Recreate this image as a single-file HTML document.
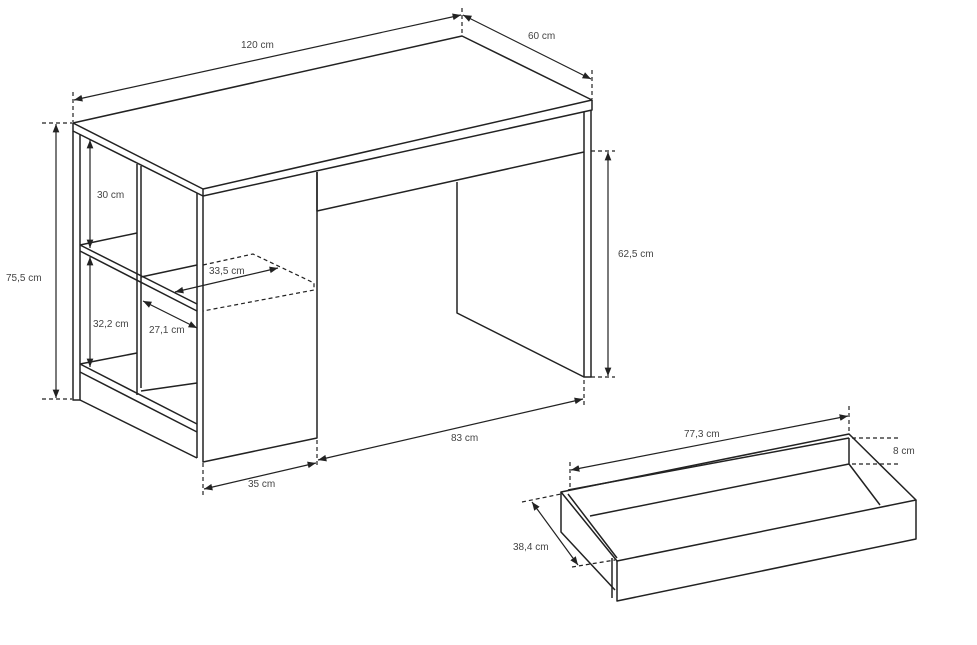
<!DOCTYPE html>
<html><head><meta charset="utf-8"><style>
html,body{margin:0;padding:0;background:#fff;}
svg{display:block}
text{font-family:"Liberation Sans",sans-serif;font-size:10px;fill:#444}
</style></head><body>
<svg width="977" height="645" viewBox="0 0 977 645" xmlns="http://www.w3.org/2000/svg">
<defs>
<marker id="a" viewBox="0 0 10 10" refX="10" refY="5" markerWidth="7" markerHeight="7" orient="auto-start-reverse"><path d="M0,1 L10,5 L0,9 z" fill="#222"/></marker>
</defs>
<g stroke="#222" stroke-width="1.5" fill="none" stroke-linejoin="round">
<path d="M73,123 L462,36 L592,100 L203,189 Z"/>
<path d="M73,123 L73,131 L203,196 L592,110 L592,100"/>
<line x1="203" y1="189" x2="203" y2="196"/>
<path d="M584,112 L584,377 L591,377 L591,110"/>
<path d="M317,172 L317,211 L584,152"/>
<path d="M457,182 L457,313 L584,377"/>
<path d="M203,196 L203,462 L317,438 L317,172"/>
<path d="M197,193 L197,458"/>
<path d="M73,131 L73,400 L80,400 L80,134"/>
<path d="M137,164 L137,395 M141,166 L141,388"/>
<path d="M80,245 L197,304 M80,251 L197,311 M80,245 L137,233 M141,277 L197,265"/>
<path d="M80,364 L197,424 M80,372 L197,432 M80,364 L137,353 M141,391 L197,383"/>
<path d="M80,400 L197,458"/>
</g>
<g stroke="#222" stroke-width="1.2" fill="none" stroke-dasharray="4,3">
<path d="M203,265 L253,254 L314,283 L314,290 L203,311"/>
<line x1="73" y1="92" x2="73" y2="122"/><line x1="462" y1="8" x2="462" y2="35"/>
<line x1="592" y1="70" x2="592" y2="99"/>
<line x1="42" y1="123" x2="72" y2="123"/><line x1="42" y1="399" x2="72" y2="399"/>
<line x1="591" y1="151" x2="615" y2="151"/><line x1="591" y1="377" x2="615" y2="377"/>
<line x1="584" y1="380" x2="584" y2="407"/><line x1="317" y1="440" x2="317" y2="466"/>
<line x1="203" y1="463" x2="203" y2="495"/>
<line x1="849" y1="406" x2="849" y2="433"/><line x1="570" y1="462" x2="570" y2="490"/>
<line x1="852" y1="438" x2="900" y2="438"/><line x1="852" y1="464" x2="900" y2="464"/>
<line x1="522" y1="502" x2="561" y2="494"/><line x1="572" y1="567" x2="615" y2="560"/>
</g>
<g stroke="#222" stroke-width="1.2" fill="none" marker-start="url(#a)" marker-end="url(#a)">
<line x1="74" y1="100" x2="461" y2="15"/>
<line x1="463" y1="15" x2="591" y2="79"/>
<line x1="56" y1="124" x2="56" y2="398"/>
<line x1="90" y1="140" x2="90" y2="248"/>
<line x1="90" y1="257" x2="90" y2="367"/>
<line x1="175" y1="292" x2="278" y2="268"/>
<line x1="143" y1="301" x2="197" y2="328"/>
<line x1="608" y1="152" x2="608" y2="376"/>
<line x1="318" y1="460" x2="583" y2="399"/>
<line x1="204" y1="489" x2="316" y2="463"/>
<line x1="571" y1="470" x2="848" y2="416"/>
<line x1="532" y1="502" x2="578" y2="565"/>
</g>
<g stroke="#222" stroke-width="1.5" fill="none" stroke-linejoin="round">
<path d="M561,492 L849,434 L916,500 L617,561 Z"/>
<path d="M568,490 L849,438 M849,438 L849,464 L590,516 M849,464 L880,505 M568,494 L617,558"/>
<path d="M617,561 L617,601 L916,539 L916,500"/>
<path d="M561,492 L561,532 L615,590"/>
<path d="M612,558 L612,598"/>
</g>
<text x="241" y="48">120 cm</text>
<text x="528" y="39">60 cm</text>
<text x="6" y="281">75,5 cm</text>
<text x="97" y="198">30 cm</text>
<text x="93" y="327">32,2 cm</text>
<text x="209" y="274">33,5 cm</text>
<text x="149" y="333">27,1 cm</text>
<text x="618" y="257">62,5 cm</text>
<text x="451" y="441">83 cm</text>
<text x="248" y="487">35 cm</text>
<text x="684" y="437">77,3 cm</text>
<text x="893" y="454">8 cm</text>
<text x="513" y="550">38,4 cm</text>
</svg>
</body></html>
